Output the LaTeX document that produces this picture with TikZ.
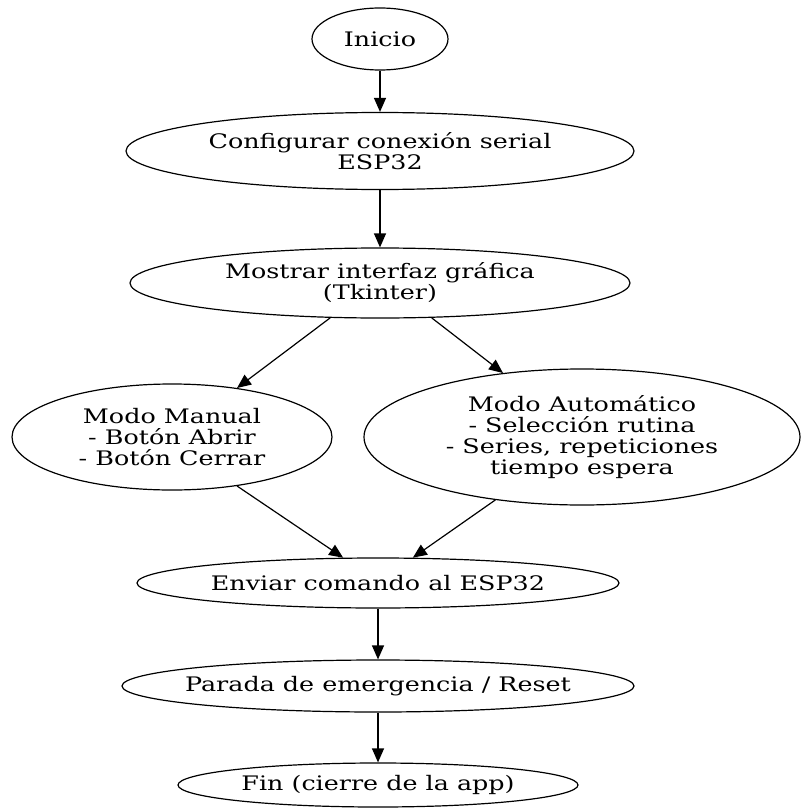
\documentclass[tikz,border=0pt]{standalone}
\usepackage{fontspec}
\setmainfont{DejaVu Serif}[FakeStretch=1.27]
\usetikzlibrary{shapes.geometric,arrows.meta}

\begin{document}
\begin{tikzpicture}[x=1pt, y=-1pt,
  flow node/.style={ellipse, draw, line width=1.2pt, inner xsep=-15pt, inner ysep=0pt, align=center,
    font=\fontsize{20}{21}\selectfont},
  flow edge/.style={line width=1.2pt, -{Triangle[length=14pt, width=12pt]}}]
  \useasboundingbox (0,0) rectangle (800,808);

  \node[flow node, minimum width=136pt, minimum height=62pt] (n0) at (380,39) {Inicio};
  \node[flow node, minimum width=508pt, minimum height=77pt] (n1) at (380,151) {Configurar conexión serial\\ESP32};
  \node[flow node, minimum width=500pt, minimum height=70pt] (n2) at (380,283) {Mostrar interfaz gráfica\\(Tkinter)};
  \node[flow node, minimum width=320pt, minimum height=106pt] (n3) at (172,437) {Modo Manual\\- Botón Abrir\\- Botón Cerrar};
  \node[flow node, minimum width=436pt, minimum height=136pt] (n4) at (582,437) {Modo Automático\\- Selección rutina\\- Series, repeticiones\\tiempo espera};
  \node[flow node, minimum width=482pt, minimum height=50pt] (n5) at (378,583) {Enviar comando al ESP32};
  \node[flow node, minimum width=512pt, minimum height=52pt] (n6) at (378,686) {Parada de emergencia / Reset};
  \node[flow node, minimum width=400pt, minimum height=44pt] (n7) at (378,785) {Fin (cierre de la app)};

  \path (n0) [flow edge] edge (n1);
  \path (n1) [flow edge] edge (n2);
  \path (n2.215) [flow edge] edge (n3.37);
  \path (n2.326) [flow edge] edge (n4.141);
  \path (n3.323) [flow edge] edge (n5.144);
  \path (n4.216) [flow edge] edge (n5.36);
  \path (n5) [flow edge] edge (n6);
  \path (n6) [flow edge] edge (n7);

\end{tikzpicture}
\end{document}
